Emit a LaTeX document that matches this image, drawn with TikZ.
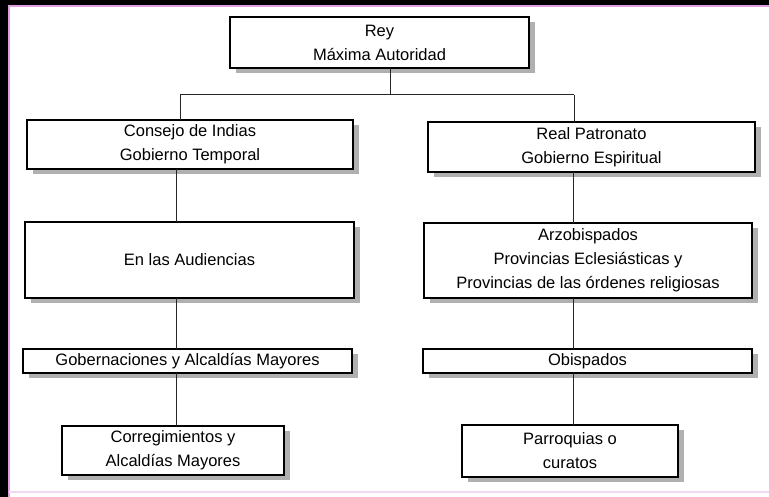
\documentclass[tikz,border=0pt]{standalone}
\usepackage{fontspec}
\setmainfont{Liberation Sans}
\usetikzlibrary{shadows}
\definecolor{framepink}{RGB}{222,160,222}
\definecolor{shadowgray}{RGB}{150,150,150}

\begin{document}
\begin{tikzpicture}[x=1pt,y=-1pt,thick,
    org node/.style={rectangle,draw,line width=1.3pt,inner sep=0pt,outer sep=0pt,align=center,
        font=\fontsize{16.5}{24}\selectfont,fill=white,
        drop shadow={shadow xshift=6pt,shadow yshift=-5pt,fill=shadowgray,opacity=0.75}},
    link/.style={draw=black!85,line width=1pt}]

        % frame
        \useasboundingbox (0,0) rectangle (769,497);
        \fill[white] (0,0) rectangle (769,497);
        \fill[black] (0,0) rectangle (769,5);
        \fill[black] (0,0) rectangle (8,497);
        \draw[framepink,line width=2pt] (769,6.5) -- (9,6.5) -- (9,497);
        \draw[framepink!40,line width=1.5pt] (9,492) -- (769,492);

        \node[org node, minimum width=299, minimum height=51] (rey) at (379.5,42.5) {Rey\\Máxima Autoridad};

        \node[org node, minimum width=326, minimum height=49] (cons) at (190,144.5) {Consejo de Indias\\Gobierno Temporal};
        \node[org node, minimum width=327, minimum height=50] (pat) at (591.5,147) {Real Patronato\\Gobierno Espiritual};

        \node[org node, minimum width=329, minimum height=76] (aud) at (189.5,260) {En las Audiencias};
        \node[org node, minimum width=328, minimum height=75] (arz) at (588,260.5) {Arzobispados\\Provincias Eclesiásticas y\\Provincias de las órdenes religiosas};

        \node[org node, minimum width=329, minimum height=24] (gob) at (187.5,361) {Gobernaciones y Alcaldías Mayores};
        \node[org node, minimum width=329, minimum height=24] (obi) at (587.5,361) {Obispados};

        \node[org node, minimum width=222, minimum height=49] (cor) at (173,450.5) {Corregimientos y\\Alcaldías Mayores};
        \node[org node, minimum width=216, minimum height=52] (par) at (570,451) {Parroquias o\\curatos};

        \coordinate (mid) at (390,95);
        \coordinate (left) at (180,95);
        \coordinate (right) at (574,95);
        \coordinate (colL) at (176,0);
        \coordinate (colR) at (573,0);

        \path[link]
        (rey.south -| mid) edge (mid)
        (left) edge (right)
        (left) edge (cons.north -| left)
        (right) edge (pat.north -| right)

        (cons.south -| colL) edge (aud.north -| colL)
        (aud.south -| colL) edge (gob.north -| colL)
        (gob.south -| colL) edge (cor.north -| colL)

        (pat.south -| colR) edge (arz.north -| colR)
        (arz.south -| colR) edge (obi.north -| colR)
        (obi.south -| colR) edge (par.north -| colR)
        ;
    \end{tikzpicture}
\end{document}
